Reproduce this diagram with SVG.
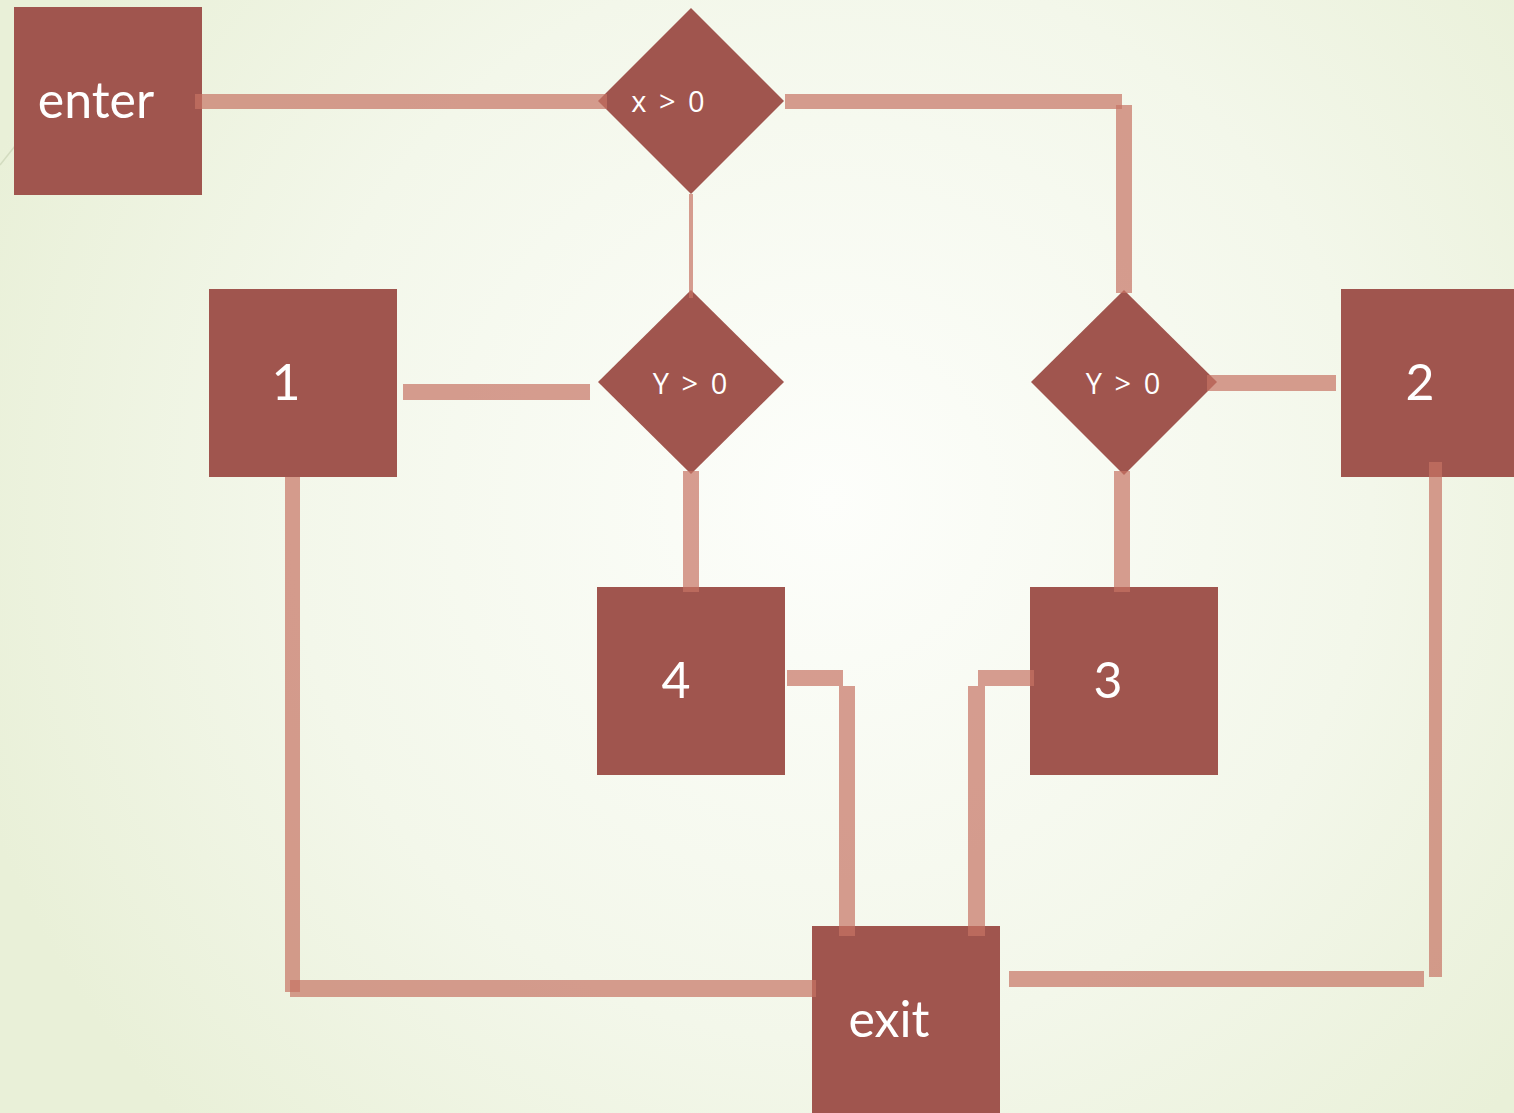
<svg xmlns="http://www.w3.org/2000/svg" width="1514" height="1113" viewBox="0 0 1514 1113">
<defs>
<radialGradient id="bg" cx="830" cy="500" r="900" gradientUnits="userSpaceOnUse">
<stop offset="0" stop-color="#fdfefb"/>
<stop offset="0.6" stop-color="#f3f7ea"/>
<stop offset="1" stop-color="#e9f0d8"/>
</radialGradient>
<style>
.node{fill:#a0554e}
.lbl{fill:#ffffff;font-family:Lato,"Open Sans",sans-serif;text-anchor:middle}
.big{font-size:50px}
.small{font-family:"Open Sans",Lato,sans-serif;font-size:29px;word-spacing:5px}
.c{fill:rgb(198,115,100);fill-opacity:0.7}
</style>
</defs>
<rect width="1514" height="1113" fill="url(#bg)"/>
<line x1="0" y1="165" x2="15" y2="146" stroke="#d3dcc0" stroke-width="1.5"/>
<g id="n-enter"><rect class="node" x="14" y="7" width="188" height="188"/><text class="lbl big" x="96" y="118">enter</text></g>
<g id="n-x"><polygon class="node" points="691,8 784,101 691,194 598,101"/><text class="lbl small" x="668" y="112">x &gt; 0</text></g>
<g id="n-y1"><polygon class="node" points="691,290 784,382 691,474 598,382"/><text class="lbl small" x="690" y="394">Y &gt; 0</text></g>
<g id="n-y2"><polygon class="node" points="1124,290 1217,382 1124,475 1031,382"/><text class="lbl small" x="1123" y="394">Y &gt; 0</text></g>
<g id="n-1"><rect class="node" x="209" y="289" width="188" height="188"/><text class="lbl big" x="286" y="400">1</text></g>
<g id="n-2"><rect class="node" x="1341" y="289" width="188" height="188"/><text class="lbl big" x="1420" y="400">2</text></g>
<g id="n-4"><rect class="node" x="597" y="587" width="188" height="188"/><text class="lbl big" x="676" y="698">4</text></g>
<g id="n-3"><rect class="node" x="1030" y="587" width="188" height="188"/><text class="lbl big" x="1108" y="698">3</text></g>
<g id="n-exit"><rect class="node" x="812" y="926" width="188" height="190"/><text class="lbl big" x="889" y="1037">exit</text></g>
<g id="connectors">
<rect class="c" x="195" y="94" width="412" height="15"/>
<rect class="c" x="785" y="94" width="337" height="15"/>
<rect class="c" x="1116" y="105" width="16" height="188"/>
<rect class="c" x="689" y="194" width="4" height="104"/>
<rect class="c" x="403" y="384" width="187" height="16"/>
<rect class="c" x="683" y="471" width="16" height="121"/>
<rect class="c" x="1207" y="375" width="129" height="16"/>
<rect class="c" x="1114" y="471" width="16" height="121"/>
<rect class="c" x="787" y="670" width="56" height="16"/>
<rect class="c" x="839" y="686" width="16" height="250"/>
<rect class="c" x="978" y="670" width="56" height="16"/>
<rect class="c" x="968" y="686" width="17" height="250"/>
<rect class="c" x="285" y="477" width="15" height="515"/>
<rect class="c" x="290" y="980" width="526" height="17"/>
<rect class="c" x="1009" y="971" width="415" height="16"/>
<rect class="c" x="1429" y="462" width="13" height="515"/>
</g>
</svg>
